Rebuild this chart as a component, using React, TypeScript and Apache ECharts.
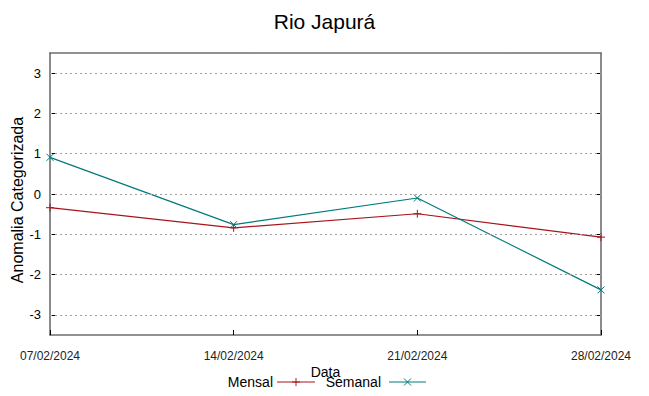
import React, { useEffect, useRef } from "react";
import * as echarts from "echarts";

const dates = ["07/02/2024", "14/02/2024", "21/02/2024", "28/02/2024"];
const mensal = [-0.34, -0.84, -0.49, -1.07];
const semanal = [0.91, -0.76, -0.1, -2.38];
const yTicks = [-3, -2, -1, 0, 1, 2, 3];
const legendNames = ["Mensal", "Semanal"];

const RED = "#a8141c";
const TEAL = "#007a7a";
const PLUS = "path://M0,5L10,5M5,0L5,10";
const CROSS = "path://M0,0L10,10M10,0L0,10";

export default function App() {
  const ref = useRef<HTMLDivElement>(null);
  useEffect(() => {
    const chart = echarts.init(ref.current!, undefined, { renderer: "svg" });
    const font = "Liberation Sans";
    const axisLineStyle = { color: "#6e6e6e", width: 1.6 };
    const legendY = 382;
    const legendItems = [
      { name: legendNames[0], textRight: 273, x0: 277, x1: 315, color: RED, plus: true },
      { name: legendNames[1], textRight: 381, x0: 389, x1: 426, color: TEAL, plus: false },
    ];
    const graphic: any[] = [];
    legendItems.forEach((it) => {
      const cx = (it.x0 + it.x1) / 2;
      graphic.push({
        type: "text",
        x: it.textRight,
        y: legendY,
        style: {
          text: it.name,
          font: `14px ${font}`,
          fill: "#000",
          align: "right",
          verticalAlign: "middle",
        },
      });
      graphic.push({
        type: "line",
        shape: { x1: it.x0, y1: legendY, x2: it.x1, y2: legendY },
        style: { stroke: it.color, lineWidth: 1.2 },
      });
      if (it.plus) {
        graphic.push({ type: "line", shape: { x1: cx - 4, y1: legendY, x2: cx + 4, y2: legendY }, style: { stroke: it.color, lineWidth: 1 } });
        graphic.push({ type: "line", shape: { x1: cx, y1: legendY - 4, x2: cx, y2: legendY + 4 }, style: { stroke: it.color, lineWidth: 1 } });
      } else {
        graphic.push({ type: "line", shape: { x1: cx - 3.5, y1: legendY - 3.5, x2: cx + 3.5, y2: legendY + 3.5 }, style: { stroke: it.color, lineWidth: 1 } });
        graphic.push({ type: "line", shape: { x1: cx - 3.5, y1: legendY + 3.5, x2: cx + 3.5, y2: legendY - 3.5 }, style: { stroke: it.color, lineWidth: 1 } });
      }
    });

    chart.setOption({
      animation: false,
      textStyle: { fontFamily: font },
      title: {
        text: "Rio Japurá",
        left: "center",
        top: 6,
        textStyle: { fontFamily: font, fontSize: 21, fontWeight: "normal", color: "#000" },
      },
      grid: { left: 50, right: 48, top: 53, bottom: 61, show: false, outerBoundsMode: "none", containLabel: false },
      graphic,
      xAxis: [
        {
          type: "category",
          data: dates,
          boundaryGap: false,
          name: "Data",
          nameLocation: "middle",
          nameGap: 30,
          nameMoveOverlap: false,
          nameTextStyle: { fontFamily: font, fontSize: 14, color: "#000" },
          axisLine: { show: true, onZero: false, lineStyle: axisLineStyle },
          axisTick: { show: true, inside: true, length: 5, lineStyle: { color: "#000" } },
          axisLabel: { fontFamily: font, fontSize: 12, color: "#222", margin: 15 },
          splitLine: { show: false },
        },
        {
          type: "category",
          data: dates,
          boundaryGap: false,
          position: "top",
          axisLine: { show: true, onZero: false, lineStyle: axisLineStyle },
          axisTick: { show: false },
          axisLabel: { show: false },
          splitLine: { show: false },
        },
      ],
      yAxis: [
        {
          type: "value",
          min: -3.5,
          max: 3.5,
          name: "Anomalia Categorizada",
          nameLocation: "middle",
          nameGap: 25,
          nameMoveOverlap: false,
          nameTextStyle: { fontFamily: font, fontSize: 16, color: "#000", padding: [0, 12, 0, 0] },
          axisLine: { show: true, onZero: false, lineStyle: axisLineStyle },
          axisTick: { show: true, inside: true, length: 5, customValues: yTicks, lineStyle: { color: "#000" } },
          axisLabel: {
            fontFamily: font,
            fontSize: 13,
            color: "#000",
            margin: 9,
            customValues: yTicks,
          },
          splitLine: { show: false },
        },
        {
          type: "value",
          min: -3.5,
          max: 3.5,
          position: "right",
          axisLine: { show: true, onZero: false, lineStyle: axisLineStyle },
          axisTick: { show: true, inside: true, length: 5, customValues: yTicks, lineStyle: { color: "#000" } },
          axisLabel: { show: false },
          splitLine: { show: false },
        },
      ],
      series: [
        {
          type: "line",
          data: [],
          silent: true,
          symbol: "none",
          markLine: {
            silent: true,
            symbol: "none",
            label: { show: false },
            lineStyle: { color: "#a0a0a0", type: [2, 3], width: 1 },
            data: yTicks.map((t) => ({ yAxis: t })),
          },
        },
        {
          name: "Mensal",
          type: "line",
          data: mensal,
          symbol: PLUS,
          symbolSize: 8,
          showSymbol: true,
          itemStyle: { color: RED, borderColor: RED, borderWidth: 1 },
          lineStyle: { color: RED, width: 1.2 },
        },
        {
          name: "Semanal",
          type: "line",
          data: semanal,
          symbol: CROSS,
          symbolSize: 7,
          itemStyle: { color: TEAL, borderColor: TEAL, borderWidth: 1 },
          lineStyle: { color: TEAL, width: 1.2 },
        },
      ],
    });
    return () => chart.dispose();
  }, []);
  return <div ref={ref} style={{ width: 649, height: 396, position: "absolute", left: 0, top: 0 }} />;
}
